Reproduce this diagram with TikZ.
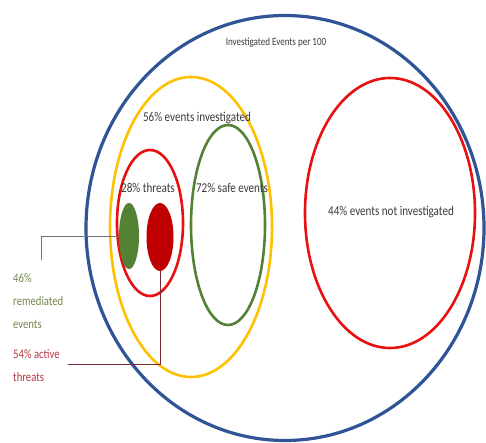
\documentclass[tikz,border=0pt]{standalone}
\usepackage{fontspec}
\setmainfont{Carlito}[FakeStretch=0.82]
\usetikzlibrary{shapes.geometric}
\definecolor{ringblue}{HTML}{2F5597}
\definecolor{ringyellow}{HTML}{FFC000}
\definecolor{ringred}{HTML}{E81010}
\definecolor{ringgreen}{HTML}{548235}
\definecolor{dotred}{HTML}{C00000}
\definecolor{txtgray}{HTML}{3A3A3A}
\definecolor{labgreen}{HTML}{74864F}
\definecolor{labred}{HTML}{B03A44}
\begin{document}
\begin{tikzpicture}[x=1pt, y=-1pt, font=\fontsize{13.5}{15}\selectfont,
      ring/.style={draw, ellipse, inner sep=0pt, line width=2.6pt},
      dot/.style={ellipse, inner sep=0pt},
      lab/.style={text=txtgray, inner sep=0pt},
      side/.style={inner sep=0pt, align=left, anchor=north west, font=\fontsize{13}{23}\selectfont}]
      \useasboundingbox (0,0) rectangle (486,443);
      \node[ring, draw=ringblue, line width=3.2pt, minimum width=398pt, minimum height=425pt] (all) at (285,228) {};
      \node[ring, draw=ringyellow, minimum width=162pt, minimum height=300pt] (inv) at (191,227) {};
      \node[ring, draw=ringred, minimum width=66pt, minimum height=146pt] (thr) at (150,223) {};
      \node[ring, draw=ringgreen, minimum width=74pt, minimum height=200pt] (safe) at (228,225) {};
      \node[ring, draw=ringred, minimum width=170pt, minimum height=270pt] (notinv) at (390,213) {};
      \node[dot, fill=ringgreen, minimum width=20pt, minimum height=66pt] (gdot) at (129,236) {};
      \node[dot, fill=dotred, minimum width=27pt, minimum height=68pt] (rdot) at (160,237) {};
      \node[lab, font=\fontsize{11}{13}\selectfont] (ttl) at (276,43) {Investigated Events per 100};
      \node[lab] (invl) at (197,118) {56\% events investigated};
      \node[lab] (thrl) at (148,188) {28\% threats};
      \node[lab] (safel) at (232,188) {72\% safe events};
      \node[lab] (notl) at (391,212) {44\% events not investigated};
      \node[side, text=labgreen] (remed) at (13,273) {46\%\\remediated\\events};
      \node[side, text=labred] (active) at (13,349) {54\% active\\threats};
      \coordinate (gend) at (41,260);
      \coordinate (rend) at (68,364);
      \draw[gray!90!black, thin] (gdot.west) -| (gend);
      \draw[labred!70!black, thin] (rdot.south) |- (rend);
    \end{tikzpicture}
\end{document}
